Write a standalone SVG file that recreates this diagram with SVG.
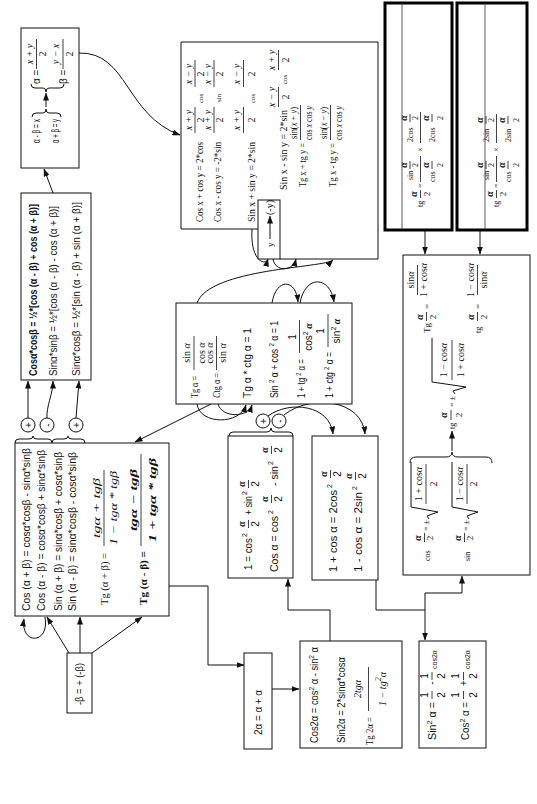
<svg xmlns="http://www.w3.org/2000/svg" width="537" height="804" viewBox="0 0 537 804">
<defs>
<style>
.s{font-family:"Liberation Sans Narrow","Liberation Sans","DejaVu Sans Condensed",sans-serif;font-size:10px;fill:#111}
.r{font-family:"Liberation Serif","DejaVu Serif",serif;font-size:10px;fill:#111}
.i{font-style:italic}
.m{text-anchor:middle}
.g{font-weight:bold;font-style:italic}
.t7{font-size:7px}.t8{font-size:8px}.t9{font-size:9px}
.fb{stroke:#111;stroke-width:.8}
.b{fill:#fff;stroke:#111;stroke-width:1}
.k{fill:#fff;stroke:#000;stroke-width:3}
.l{fill:none;stroke:#111;stroke-width:1}
.a{fill:none;stroke:#111;stroke-width:1;marker-end:url(#ah)}
.c{fill:#fff;stroke:#111;stroke-width:1}
.th{stroke:#333;stroke-width:.8}
</style>
<marker id="ah" markerWidth="8" markerHeight="6" refX="7.5" refY="3" orient="auto" markerUnits="userSpaceOnUse"><path d="M0,0 L8,3 L0,6 z" fill="#111"/></marker>
</defs>
<rect width="537" height="804" fill="#fff"/>
<g transform="translate(0 804) rotate(-90)">

<g id="connectors">
<path class="a" d="M611,53 L635,44"/>
<path class="a" d="M751,79 C752,128 689,125 669,180"/>
<path class="a" d="M386,28 L423,28"/>
<path class="a" d="M386,47 C397,46 410,53 423,53"/>
<path class="a" d="M386,76 L423,79"/>
<path class="a" d="M151,69 L187,47"/>
<path class="a" d="M151,80 L187,80"/>
<path class="a" d="M151,92 L187,142"/>
<path class="a" d="M187,45 C159,50 159,20 185,24"/>
<path class="a" d="M218,169 L218,208 L139,208 L139,244"/>
<path class="a" d="M115,272 L115,299"/>
<path class="a" d="M163,330 L194,330 L194,288 L225,288"/>
<path class="a" d="M224,376 L194,376 L194,425 L164,425"/>
<path class="a" d="M194,425 L211,425 L211,462 L228,462"/>
<path class="a" d="M573,425 L550,425"/>
<path class="a" d="M573,480 L550,480"/>
<path class="a" d="M400,211 L362,135"/>
<path class="a" d="M400,197 C379,200 379,240 399,246"/>
<path class="a" d="M400,218 C386,222 386,248 399,252"/>
<path class="a" d="M501,272 C526,276 526,296 502,298"/>
<path class="a" d="M501,300 C529,305 529,330 502,334"/>
<path class="a" d="M501,197 C536,210 536,325 544,333"/>
<path class="a" d="M575,252 C542,250 538,266 545,268"/>
<path class="a" d="M545,273 C532,275 532,293 545,296"/>
<path class="a" d="M388,268 C404,290 399,330 370,333"/>
<path class="a" d="M389,284 C410,310 405,362 370,365"/>
</g>

<g id="n-alphabeta">
<rect class="b" x="636" y="21" width="140" height="58"/>
<text class="s" x="661" y="40" font-size="9.5" textLength="24" lengthAdjust="spacingAndGlyphs">α - β = x</text>
<text class="s" x="661" y="59" font-size="9.5" textLength="24" lengthAdjust="spacingAndGlyphs">α + β = y</text>
<path class="l" d="M687,32 Q691,32 691,36 L691,43 Q691,46 695,46 Q691,46 691,49 L691,57 Q691,61 687,61"/>
<path class="a" d="M697,46 L711,46"/>
<path class="l" d="M720,31 Q716,31 716,35 L716,43 Q716,46 712,46 Q716,46 716,49 L716,60 Q716,64 720,64"/>
<text class="s" x="720" y="40" font-size="9.5">α =</text>
<text class="s" x="720" y="67" font-size="9.5">β =</text>
<text class="r i m" x="750" y="33">x + y</text>
<line class="fb" x1="735" y1="36.5" x2="765" y2="36.5"/>
<text class="r m" x="750" y="46">2</text>
<text class="r i m" x="750" y="59">y − x</text>
<line class="fb" x1="735" y1="63" x2="765" y2="63"/>
<text class="r m" x="750" y="73">2</text>
</g>

<g id="n-products">
<rect class="b" x="424" y="21" width="187" height="70"/>
<text class="s" x="428" y="37" font-weight="bold" textLength="172" lengthAdjust="spacingAndGlyphs">Cosα*cosβ = ½*[cos (α - β) + cos (α + β)]</text>
<text class="s" x="428" y="57" textLength="170" lengthAdjust="spacingAndGlyphs">Sinα*sinβ = ½*[cos (α - β) - cos (α + β)]</text>
<text class="s" x="428" y="80" textLength="174" lengthAdjust="spacingAndGlyphs">Sinα*cosβ = ½*[sin (α - β) + sin (α + β)]</text>
</g>

<g id="op-1">
<path class="l" d="M361,15 Q365,15 365,19 L365,29 Q365,33 368,33 Q365,33 365,37 L365,48 Q365,52 361,52"/>
<path class="l" d="M361,52 Q365,52 365,56 L365,64 Q365,68 368,68 Q365,68 365,72 L365,81 Q365,85 361,85"/>
<circle class="c" cx="379" cy="28" r="7"/><text class="s m" x="379" y="31.5">+</text>
<circle class="c" cx="379" cy="47" r="7"/><text class="s m" x="379" y="50.5">-</text>
<circle class="c" cx="379" cy="76" r="7"/><text class="s m" x="379" y="79.5">+</text>
</g>

<g id="n-sum">
<rect class="b" x="188" y="15" width="173" height="154"/>
<text class="s" x="193" y="30" textLength="163" lengthAdjust="spacingAndGlyphs">Cos (α + β) = cosα*cosβ - sinα*sinβ</text>
<text class="s" x="193" y="45" textLength="161" lengthAdjust="spacingAndGlyphs">Cos (α - β) = cosα*cosβ + sinα*sinβ</text>
<text class="s" x="193" y="62" textLength="159" lengthAdjust="spacingAndGlyphs">Sin (α + β) = sinα*cosβ + cosα*sinβ</text>
<text class="s" x="193" y="76" textLength="159" lengthAdjust="spacingAndGlyphs">Sin (α - β) = sinα*cosβ - cosα*sinβ</text>
<text class="r" x="199" y="108" textLength="52" lengthAdjust="spacingAndGlyphs">Tg (α + β) =</text>
<text class="r i m" x="296" y="100" font-size="12" textLength="60" lengthAdjust="spacingAndGlyphs">tgα + tgβ</text>
<line class="fb" x1="258" y1="104" x2="334" y2="104"/>
<text class="r i m" x="296" y="117" font-size="12" textLength="74" lengthAdjust="spacingAndGlyphs">1 − tgα * tgβ</text>
<text class="r" x="199" y="147" font-weight="bold" textLength="54" lengthAdjust="spacingAndGlyphs">Tg (α - β) =</text>
<text class="r i m" x="304" y="137" font-size="12" font-weight="bold" textLength="62" lengthAdjust="spacingAndGlyphs">tgα − tgβ</text>
<line class="fb" x1="258" y1="141" x2="350" y2="141"/>
<text class="r i m" x="304" y="156" font-size="12" font-weight="bold" textLength="84" lengthAdjust="spacingAndGlyphs">1 + tgα * tgβ</text>
</g>

<g id="n-negbeta">
<rect class="b" x="91" y="67" width="60" height="25"/>
<text class="s" x="99" y="83" textLength="42" lengthAdjust="spacingAndGlyphs">-β = + (-β)</text>
</g>

<g id="n-double">
<rect class="b" x="55" y="244" width="96" height="28"/>
<text class="s" x="69" y="262" textLength="45" lengthAdjust="spacingAndGlyphs">2α = α + α</text>
</g>

<g id="n-double-formulas">
<rect class="b" x="56" y="300" width="107" height="102"/>
<text class="s" x="61" y="318" textLength="96" lengthAdjust="spacingAndGlyphs">Cos2α = cos<tspan class="t7" dy="-4">2</tspan><tspan dy="4"> α - sin</tspan><tspan class="t7" dy="-4">2</tspan><tspan dy="4"> α</tspan></text>
<text class="s" x="61" y="345" textLength="86" lengthAdjust="spacingAndGlyphs">Sin2α = 2*sinα*cosα</text>
<text class="r" x="59" y="373" textLength="28" lengthAdjust="spacingAndGlyphs">Tg 2α =</text>
<text class="r i m" x="115" y="361" font-size="13">2tgα</text>
<line class="fb" x1="93" y1="368.5" x2="137" y2="368.5"/>
<text class="r i m" x="115" y="386" font-size="13">1 − tg<tspan font-size="8" dy="-5">2</tspan><tspan dy="5">α</tspan></text>
</g>

<g id="n-squares">
<rect class="b" x="56" y="419" width="107" height="67"/>
<text class="s" x="64" y="436" textLength="38" lengthAdjust="spacingAndGlyphs">Sin<tspan class="t7" dy="-4">2</tspan><tspan dy="4"> α =</tspan></text>
<text class="s m" x="109" y="428" font-size="9">1</text>
<line class="fb" x1="105" y1="432" x2="113" y2="432"/>
<text class="s m" x="109" y="445" font-size="9">2</text>
<text class="s m" x="121" y="435">-</text>
<text class="s m" x="128" y="428" font-size="9">1</text>
<line class="fb" x1="124" y1="432" x2="132" y2="432"/>
<text class="s m" x="128" y="445" font-size="9">2</text>
<text class="s t7" x="135" y="437">cos2α</text>
<text class="s" x="64" y="469" textLength="38" lengthAdjust="spacingAndGlyphs">Cos<tspan class="t7" dy="-4">2</tspan><tspan dy="4"> α =</tspan></text>
<text class="s m" x="109" y="459" font-size="9">1</text>
<line class="fb" x1="105" y1="463.5" x2="113" y2="463.5"/>
<text class="s m" x="109" y="477" font-size="9">2</text>
<text class="s m" x="121" y="467">+</text>
<text class="s m" x="128" y="459" font-size="9">1</text>
<line class="fb" x1="124" y1="463.5" x2="132" y2="463.5"/>
<text class="s m" x="128" y="477" font-size="9">2</text>
<text class="s t7" x="135" y="470">cos2α</text>
</g>

<g id="n-halfsq">
<rect class="b" x="226" y="228" width="142" height="65"/>
<text class="s" x="234" y="252" textLength="32" lengthAdjust="spacingAndGlyphs">1 = cos</text>
<text class="s t7" x="267" y="247">2</text>
<text class="r g m" x="280" y="245">α</text>
<line class="fb" x1="276" y1="248.5" x2="284" y2="248.5"/>
<text class="s m" x="280" y="259" font-size="9">2</text>
<text class="s" x="289" y="252" textLength="19" lengthAdjust="spacingAndGlyphs">+ sin</text>
<text class="s t7" x="309" y="247">2</text>
<text class="r g m" x="320" y="245">α</text>
<line class="fb" x1="316" y1="248.5" x2="324" y2="248.5"/>
<text class="s m" x="320" y="259" font-size="9">2</text>
<text class="s" x="232" y="278" textLength="56" lengthAdjust="spacingAndGlyphs">Cos α = cos</text>
<text class="s t7" x="290" y="273">2</text>
<text class="r g m" x="305" y="268">α</text>
<line class="fb" x1="301" y1="271.5" x2="309" y2="271.5"/>
<text class="s m" x="305" y="282" font-size="9">2</text>
<text class="s" x="318" y="278" textLength="20" lengthAdjust="spacingAndGlyphs">- sin</text>
<text class="s t7" x="339" y="273">2</text>
<text class="r g m" x="354" y="268">α</text>
<line class="fb" x1="350" y1="271.5" x2="358" y2="271.5"/>
<text class="s m" x="354" y="282" font-size="9">2</text>
</g>

<g id="op-2">
<path class="l" d="M368,229 Q372,229 372,233 L372,267 Q372,271 376,271 Q372,271 372,275 L372,289 Q372,293 368,293"/>
<circle class="c" cx="383" cy="263" r="7"/><text class="s m" x="383" y="266.5">+</text>
<circle class="c" cx="383" cy="279" r="7"/><text class="s m" x="383" y="282.5">-</text>
</g>

<g id="n-onepm">
<rect class="b" x="224" y="312" width="144" height="66"/>
<text class="s" x="232" y="337" textLength="82" lengthAdjust="spacingAndGlyphs">1 + cos α = 2cos</text>
<text class="s t7" x="316" y="332">2</text>
<text class="r g m" x="330" y="327">α</text>
<line class="fb" x1="326" y1="330.5" x2="334" y2="330.5"/>
<text class="s m" x="330" y="341" font-size="9">2</text>
<text class="s" x="232" y="362" textLength="80" lengthAdjust="spacingAndGlyphs">1 - cos α = 2sin</text>
<text class="s t7" x="314" y="357">2</text>
<text class="r g m" x="328" y="352">α</text>
<line class="fb" x1="324" y1="355.5" x2="332" y2="355.5"/>
<text class="s m" x="328" y="366" font-size="9">2</text>
</g>

<g id="n-tg">
<rect class="b" x="400" y="176" width="101" height="176"/>
<text class="r" x="406" y="198" textLength="22" lengthAdjust="spacingAndGlyphs">Tg α =</text>
<text class="r m" x="451" y="190">sin <tspan class="i">α</tspan></text>
<line class="fb" x1="434" y1="194" x2="468" y2="194"/>
<text class="r m" x="451" y="205">cos <tspan class="i">α</tspan></text>
<text class="r" x="406" y="220" textLength="25" lengthAdjust="spacingAndGlyphs"><tspan class="i">C</tspan>tg α =</text>
<text class="r m" x="451" y="213">cos <tspan class="i">α</tspan></text>
<line class="fb" x1="434" y1="216.5" x2="468" y2="216.5"/>
<text class="r m" x="451" y="226">sin <tspan class="i">α</tspan></text>
<text class="s" x="406" y="251" font-size="9.5" textLength="70" lengthAdjust="spacingAndGlyphs">Tg α * ctg α = 1</text>
<text class="s" x="406" y="278" font-size="9.5" textLength="77" lengthAdjust="spacingAndGlyphs">Sin <tspan class="t7" dy="-4">2</tspan><tspan dy="4"> α + cos </tspan><tspan class="t7" dy="-4">2</tspan><tspan dy="4"> α = 1</tspan></text>
<text class="s" x="406" y="305" font-size="9.5" textLength="39" lengthAdjust="spacingAndGlyphs">1 + tg <tspan class="t7" dy="-4">2</tspan><tspan dy="4"> α =</tspan></text>
<text class="s m" x="467" y="296">1</text>
<line class="fb" x1="451" y1="299.5" x2="484" y2="299.5"/>
<text class="s m" x="467" y="312">cos<tspan class="t7" dy="-4">2</tspan><tspan class="r g" dy="4"> α</tspan></text>
<text class="s" x="406" y="333" font-size="9.5" textLength="46" lengthAdjust="spacingAndGlyphs">1 + ctg <tspan class="t7" dy="-4">2</tspan><tspan dy="4"> α =</tspan></text>
<text class="s m" x="473" y="324">1</text>
<line class="fb" x1="457" y1="328" x2="490" y2="328"/>
<text class="s m" x="473" y="340">sin<tspan class="t7" dy="-4">2</tspan><tspan class="r g" dy="4"> α</tspan></text>
</g>

<g id="n-sumtoproduct">
<path class="l" d="M575,258 L575,181 L762,181 L762,378 L545,378 L545,280"/>
<text class="r" x="582" y="203" textLength="80" lengthAdjust="spacingAndGlyphs">Cos x + cos y = 2*cos</text>
<text class="r i m" x="684" y="192">x + y</text>
<line class="fb" x1="671" y1="195" x2="697" y2="195"/>
<text class="r m" x="684" y="204">2</text>
<text class="r t7" x="701" y="203">cos</text>
<text class="r i m" x="730" y="192">x − y</text>
<line class="fb" x1="717" y1="195" x2="744" y2="195"/>
<text class="r m" x="730" y="204">2</text>
<text class="r" x="582" y="221" textLength="80" lengthAdjust="spacingAndGlyphs">Cos x - cos y = -2*sin</text>
<text class="r i m" x="684" y="211">x + y</text>
<line class="fb" x1="671" y1="214" x2="697" y2="214"/>
<text class="r m" x="684" y="223">2</text>
<text class="r t7" x="702" y="221">sin</text>
<text class="r i m" x="730" y="211">x − y</text>
<line class="fb" x1="717" y1="214" x2="744" y2="214"/>
<text class="r m" x="730" y="223">2</text>
<text class="r" x="582" y="255" textLength="80" lengthAdjust="spacingAndGlyphs">Sin x + sin y = 2*sin</text>
<text class="r i m" x="684" y="240">x + y</text>
<line class="fb" x1="671" y1="243.5" x2="697" y2="243.5"/>
<text class="r m" x="684" y="255">2</text>
<text class="r t7" x="701" y="255">cos</text>
<text class="r i m" x="730" y="240">x − y</text>
<line class="fb" x1="717" y1="243.5" x2="744" y2="243.5"/>
<text class="r m" x="730" y="255">2</text>
<text class="r" x="614" y="287" textLength="80" lengthAdjust="spacingAndGlyphs">Sin x - sin y = 2*sin</text>
<text class="r i m" x="707" y="275">x − y</text>
<line class="fb" x1="697" y1="278.5" x2="717" y2="278.5"/>
<text class="r m" x="707" y="289">2</text>
<text class="r t7" x="720" y="287">cos</text>
<text class="r i m" x="744" y="275">x + y</text>
<line class="fb" x1="734" y1="278.5" x2="754" y2="278.5"/>
<text class="r m" x="744" y="289">2</text>
<text class="r" x="617" y="306" textLength="44" lengthAdjust="spacingAndGlyphs">Tg x + tg y =</text>
<text class="r m" x="681" y="297" textLength="32" lengthAdjust="spacingAndGlyphs">sin(<tspan class="i">x</tspan> + <tspan class="i">y</tspan>)</text>
<line class="fb" x1="664" y1="300.5" x2="699" y2="300.5"/>
<text class="r m" x="681" y="312" textLength="34" lengthAdjust="spacingAndGlyphs">cos <tspan class="i">x</tspan> cos <tspan class="i">y</tspan></text>
<text class="r" x="617" y="336" textLength="44" lengthAdjust="spacingAndGlyphs">Tg x - tg y =</text>
<text class="r m" x="681" y="327" textLength="32" lengthAdjust="spacingAndGlyphs">sin(<tspan class="i">x</tspan> − <tspan class="i">y</tspan>)</text>
<line class="fb" x1="664" y1="330.5" x2="699" y2="330.5"/>
<text class="r m" x="681" y="342" textLength="34" lengthAdjust="spacingAndGlyphs">cos <tspan class="i">x</tspan> cos <tspan class="i">y</tspan></text>
</g>

<g id="n-substitute">
<rect class="b" x="545" y="258" width="59" height="22"/>
<text class="r t9" x="557" y="273">y</text>
<path class="a" d="M565,270 L588,270"/>
<text class="r" x="589" y="273" font-size="8.5">(-y)</text>
</g>

<g id="n-halfangle">
<rect class="b" x="229" y="403" width="320" height="127"/>
<text class="r t8" x="243" y="430">cos</text>
<text class="r g m" x="266" y="421">α</text>
<line class="fb" x1="262" y1="424.5" x2="271" y2="424.5"/>
<text class="r t9 m" x="266" y="433">2</text>
<text class="r t8" x="273" y="429">= ±</text>
<path class="l" d="M285,429 L288,427 L292,438 L297,411 L342,411"/>
<text class="r m" x="320" y="422">1 + cos<tspan class="i">α</tspan></text>
<line class="fb" x1="300" y1="426" x2="340" y2="426"/>
<text class="r m" x="320" y="437">2</text>
<text class="r t8" x="243" y="470">sin</text>
<text class="r g m" x="266" y="461">α</text>
<line class="fb" x1="262" y1="464.5" x2="271" y2="464.5"/>
<text class="r t9 m" x="266" y="473">2</text>
<text class="r t8" x="273" y="469">= ±</text>
<path class="l" d="M285,469 L288,467 L292,478 L297,452 L342,452"/>
<text class="r m" x="320" y="463">1 − cos<tspan class="i">α</tspan></text>
<line class="fb" x1="300" y1="467" x2="340" y2="467"/>
<text class="r m" x="320" y="477">2</text>
<path class="l" d="M341,410 Q347,410 347,416 L347,446 Q347,452 352,452 Q347,452 347,458 L347,486 Q347,492 341,492"/>
<path class="a" d="M353,452 L373,452"/>
<text class="r t8" x="375" y="455">tg</text>
<text class="r g m" x="389" y="447">α</text>
<line class="fb" x1="384" y1="451" x2="394" y2="451"/>
<text class="r t9 m" x="389" y="462">2</text>
<text class="r t8" x="397" y="455">= ±</text>
<path class="l" d="M410,455 L413,453 L417,466 L422,432 L466,432"/>
<text class="r m" x="444" y="447">1 − cos<tspan class="i">α</tspan></text>
<line class="fb" x1="424" y1="452" x2="464" y2="452"/>
<text class="r m" x="444" y="464">1 + cos<tspan class="i">α</tspan></text>
<text class="r t9" x="471" y="430">Tg</text>
<text class="r g m" x="487" y="423">α</text>
<line class="fb" x1="483" y1="426.5" x2="492" y2="426.5"/>
<text class="r t9 m" x="487" y="436">2</text>
<text class="r t9" x="495" y="430">=</text>
<text class="r m" x="524" y="414">sin<tspan class="i">α</tspan></text>
<line class="fb" x1="509" y1="417.5" x2="539" y2="417.5"/>
<text class="r m" x="524" y="427">1 + cos<tspan class="i">α</tspan></text>
<text class="r t8" x="471" y="481">tg</text>
<text class="r g m" x="487" y="474">α</text>
<line class="fb" x1="483" y1="477.5" x2="492" y2="477.5"/>
<text class="r t9 m" x="487" y="487">2</text>
<text class="r t9" x="495" y="481">=</text>
<text class="r m" x="524" y="474">1 − cos<tspan class="i">α</tspan></text>
<line class="fb" x1="509" y1="477.5" x2="539" y2="477.5"/>
<text class="r m" x="524" y="487">sin<tspan class="i">α</tspan></text>
</g>

<g id="n-tg-cos">
<rect class="k" x="574" y="385" width="227" height="67"/>
<line class="th" x1="574" y1="402" x2="801" y2="402"/>
<text class="r t8" x="597" y="423">tg</text>
<text class="r g m" x="610" y="417">α</text>
<line class="fb" x1="606" y1="420.5" x2="614" y2="420.5"/>
<text class="r t9 m" x="610" y="430">2</text>
<text class="r t8" x="616" y="423">=</text>
<text class="r t8" x="624" y="413">sin</text>
<text class="r g m" x="639" y="407" font-size="9">α</text>
<line class="fb" x1="635" y1="410" x2="643" y2="410"/>
<text class="r t8 m" x="639" y="418">2</text>
<line class="fb" x1="622" y1="420.5" x2="648" y2="420.5"/>
<text class="r t8" x="622" y="435">cos</text>
<text class="r g m" x="639" y="429" font-size="9">α</text>
<line class="fb" x1="635" y1="432" x2="643" y2="432"/>
<text class="r t8 m" x="639" y="443">2</text>
<text class="r t8" x="652" y="423">×</text>
<text class="r t8" x="662" y="413">2cos</text>
<text class="r g m" x="686" y="407" font-size="9">α</text>
<line class="fb" x1="682" y1="410" x2="690" y2="410"/>
<text class="r t8 m" x="686" y="418">2</text>
<line class="fb" x1="661" y1="420.5" x2="692" y2="420.5"/>
<text class="r t8" x="662" y="435">2cos</text>
<text class="r g m" x="686" y="429" font-size="9">α</text>
<line class="fb" x1="682" y1="432" x2="690" y2="432"/>
<text class="r t8 m" x="686" y="443">2</text>
</g>

<g id="n-tg-sin">
<rect class="k" x="574" y="457" width="227" height="70"/>
<line class="th" x1="574" y1="485" x2="801" y2="485"/>
<g transform="translate(0 76)">
<text class="r t8" x="597" y="423">tg</text>
<text class="r g m" x="610" y="417">α</text>
<line class="fb" x1="606" y1="420.5" x2="614" y2="420.5"/>
<text class="r t9 m" x="610" y="430">2</text>
<text class="r t8" x="616" y="423">=</text>
<text class="r t8" x="624" y="413">sin</text>
<text class="r g m" x="639" y="407" font-size="9">α</text>
<line class="fb" x1="635" y1="410" x2="643" y2="410"/>
<text class="r t8 m" x="639" y="418">2</text>
<line class="fb" x1="622" y1="420.5" x2="648" y2="420.5"/>
<text class="r t8" x="622" y="435">cos</text>
<text class="r g m" x="639" y="429" font-size="9">α</text>
<line class="fb" x1="635" y1="432" x2="643" y2="432"/>
<text class="r t8 m" x="639" y="443">2</text>
<text class="r t8" x="652" y="423">×</text>
<text class="r t8" x="662" y="413">2sin</text>
<text class="r g m" x="684" y="407" font-size="9">α</text>
<line class="fb" x1="680" y1="410" x2="688" y2="410"/>
<text class="r t8 m" x="684" y="418">2</text>
<line class="fb" x1="661" y1="420.5" x2="690" y2="420.5"/>
<text class="r t8" x="662" y="435">2sin</text>
<text class="r g m" x="684" y="429" font-size="9">α</text>
<line class="fb" x1="680" y1="432" x2="688" y2="432"/>
<text class="r t8 m" x="684" y="443">2</text>
</g>
</g>

</g>
</svg>
